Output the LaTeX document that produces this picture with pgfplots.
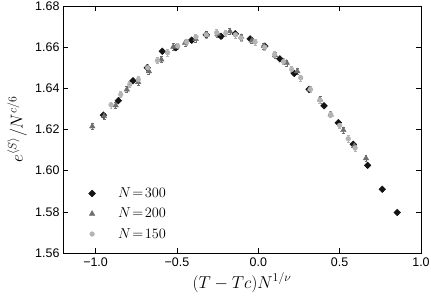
\documentclass[border=0pt]{standalone}
\usepackage{fontspec}
\setsansfont{Liberation Sans}
\usepackage{pgfplots}
\usepackage{pgfplotstable}
\pgfplotsset{compat=1.18}
\definecolor{cA}{HTML}{141414}
\definecolor{cB}{HTML}{6E6E6E}
\definecolor{cC}{HTML}{B4B4B4}
\pgfplotstableread{
x y e
-0.952 1.6270 0.0008
-0.860 1.6340 0.0008
-0.770 1.6437 0.0008
-0.682 1.6500 0.0008
-0.590 1.6580 0.0008
-0.506 1.6597 0.0008
-0.409 1.6634 0.0008
-0.320 1.6660 0.0008
-0.229 1.6653 0.0008
-0.141 1.6665 0.0008
-0.050 1.6640 0.0008
0.041 1.6605 0.0008
0.133 1.6543 0.0008
0.221 1.6472 0.0008
0.312 1.6395 0.0008
0.404 1.6315 0.0008
0.492 1.6233 0.0008
0.584 1.6128 0.0008
0.672 1.6026 0.0008
0.762 1.5910 0.0008
0.854 1.5797 0.0008
}\dataA
\pgfplotstableread{
x y e
-1.020 1.6215 0.0015
-0.948 1.6265 0.0015
-0.876 1.6317 0.0015
-0.808 1.6394 0.0015
-0.738 1.6430 0.0015
-0.672 1.6483 0.0015
-0.596 1.6540 0.0015
-0.522 1.6602 0.0015
-0.450 1.6621 0.0015
-0.384 1.6640 0.0015
-0.317 1.6661 0.0015
-0.250 1.6665 0.0015
-0.174 1.6677 0.0015
-0.105 1.6650 0.0015
-0.040 1.6632 0.0015
0.035 1.6605 0.0015
0.103 1.6560 0.0015
0.175 1.6524 0.0015
0.240 1.6483 0.0015
0.314 1.6395 0.0015
0.380 1.6345 0.0015
0.445 1.6273 0.0015
0.523 1.6197 0.0015
0.590 1.6120 0.0015
0.662 1.6060 0.0015
}\dataB
\pgfplotstableread{
x y e
-0.905 1.6320 0.0015
-0.845 1.6370 0.0015
-0.790 1.6419 0.0015
-0.737 1.6443 0.0015
-0.680 1.6500 0.0015
-0.620 1.6535 0.0015
-0.557 1.6573 0.0015
-0.495 1.6605 0.0015
-0.440 1.6625 0.0015
-0.383 1.6650 0.0015
-0.320 1.6660 0.0015
-0.256 1.6670 0.0015
-0.200 1.6668 0.0015
-0.140 1.6660 0.0015
-0.106 1.6645 0.0015
-0.020 1.6625 0.0015
0.040 1.6600 0.0015
0.100 1.6565 0.0015
0.155 1.6530 0.0015
0.205 1.6492 0.0015
0.261 1.6451 0.0015
0.320 1.6395 0.0015
0.379 1.6343 0.0015
0.445 1.6273 0.0015
0.500 1.6220 0.0015
0.553 1.6155 0.0015
0.595 1.6110 0.0015
}\dataC
\begin{document}
\begin{tikzpicture}
\begin{axis}[
  scale only axis,
  width=358bp, height=247bp,
  xmin=-1.2, xmax=1.0, ymin=1.56, ymax=1.68,
  xtick={-1.0,-0.5,0.0,0.5,1.0},
  xticklabels={−1.0,−0.5,0.0,0.5,1.0},
  ytick={1.56,1.58,1.60,1.62,1.64,1.66,1.68},
  yticklabels={1.56,1.58,1.60,1.62,1.64,1.66,1.68},
  ticklabel style={font=\sffamily\fontsize{12.5}{14}\selectfont},
  xticklabel style={yshift=-1bp},
  tick align=inside, major tick length=5bp,
  tick style={black, line width=0.6pt},
  axis line style={black, line width=0.8pt},
  xlabel={$(T-Tc)N^{1/\nu}$},
  ylabel={$e^{\langle S\rangle}/N^{c/6}$},
  label style={font=\fontsize{18}{20}\selectfont},
  xlabel style={at={(axis description cs:0.5,0)}, anchor=base, yshift=-35bp},
  ylabel style={at={(axis description cs:-0.128,0.5)}, anchor=center},
  legend style={draw=none, fill=none, inner sep=0pt, at={(axis description cs:0.064,0.045)}, anchor=south west,
    font=\fontsize{13.5}{15}\selectfont, row sep=5bp},
  legend cell align=left,
  legend image code/.code={\path[draw=none, fill=none] (0bp,-1bp) rectangle (30bp,1bp); \draw[#1, draw=none] plot coordinates {(6bp,0bp)};},
  error bars/error bar style={line width=0.5pt},
]
\addplot+[only marks, mark=square*, mark size=2.4pt, color=cA, mark options={fill=cA, draw=cA, rotate=45},
  error bars/.cd, y dir=both, y explicit, error mark options={rotate=90, mark size=1.5pt, cA}]
  table[x=x, y=y, y error=e] {\dataA};
\addlegendentry{$N\!=\!300$}
\addplot+[only marks, mark=triangle*, mark size=3.2pt, color=cB, mark options={fill=cB, draw=cB},
  error bars/.cd, y dir=both, y explicit, error mark options={rotate=90, mark size=1.5pt, cB}]
  table[x=x, y=y, y error=e] {\dataB};
\addlegendentry{$N\!=\!200$}
\addplot+[only marks, mark=*, mark size=2.4pt, color=cC, mark options={fill=cC, draw=cC},
  error bars/.cd, y dir=both, y explicit, error mark options={rotate=90, mark size=1.5pt, cC}]
  table[x=x, y=y, y error=e] {\dataC};
\addlegendentry{$N\!=\!150$}
\end{axis}
\pgfresetboundingbox
\path[use as bounding box] (-63bp,-45bp) rectangle (368bp,253bp);
\end{tikzpicture}
\end{document}
